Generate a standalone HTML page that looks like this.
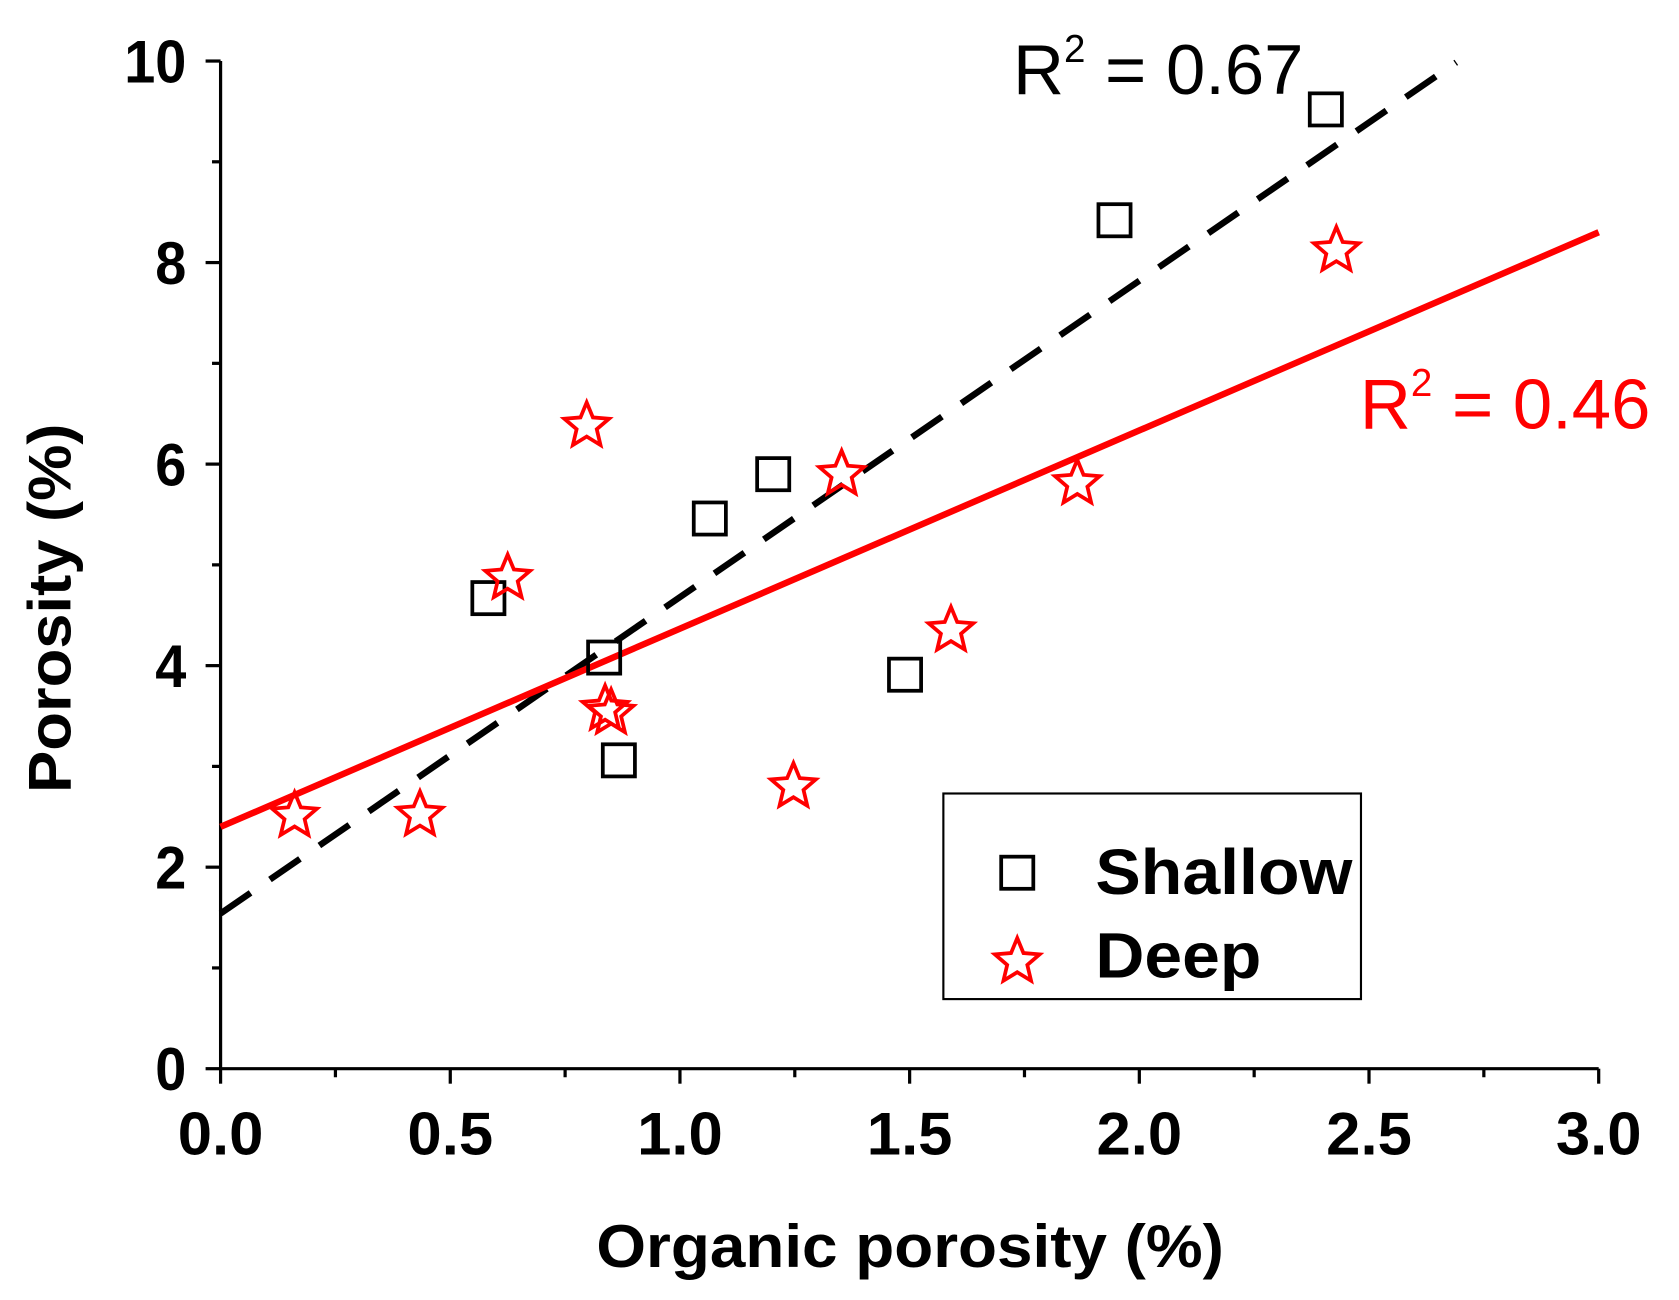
<!DOCTYPE html>
<html><head><meta charset="utf-8"><style>
html,body{margin:0;padding:0;background:#fff;}
svg{display:block;font-family:"Liberation Sans",Arial,sans-serif;}
</style></head><body>
<svg id="chart" width="1679" height="1300" viewBox="0 0 1568 1214" preserveAspectRatio="none" xmlns="http://www.w3.org/2000/svg">
<g id="axes"></g>
<g id="marks"></g>
<text transform="translate(66,568) rotate(-90)" text-anchor="middle" font-size="56" font-weight="bold" textLength="345" lengthAdjust="spacingAndGlyphs">Porosity (%)</text>
<text x="850" y="1183" text-anchor="middle" font-size="56" font-weight="bold" textLength="586" lengthAdjust="spacingAndGlyphs">Organic porosity (%)</text>
<text x="946" y="88" font-size="66">R<tspan dy="-30" font-size="36">2</tspan><tspan dy="30"> = 0.67</tspan></text>
<text x="1270" y="400" font-size="66" fill="#ff0000">R<tspan dy="-30" font-size="36">2</tspan><tspan dy="30"> = 0.46</tspan></text>
<g>
<rect x="881" y="741" width="390" height="192" fill="#fff" stroke="#000" stroke-width="2"/>
<rect x="935" y="800" width="30" height="30" fill="none" stroke="#000" stroke-width="3.5"/>
<text x="1023" y="835" font-size="60" font-weight="bold" textLength="240" lengthAdjust="spacingAndGlyphs">Shallow</text>
<polygon id="legstar" fill="none" stroke="#ff0000" stroke-width="3.5"/>
<text x="1023" y="913" font-size="60" font-weight="bold" textLength="155" lengthAdjust="spacingAndGlyphs">Deep</text>
</g>
</svg>
<script>
const shallowX=[0.583,0.835,0.867,1.065,1.203,1.49,1.946,2.406];
const shallowY=[4.67,4.08,3.06,5.46,5.90,3.91,8.42,9.52];
const deepX=[0.161,0.434,0.625,0.797,0.837,0.85,1.247,1.352,1.59,1.865,2.429];
const deepY=[2.53,2.54,4.89,6.40,3.59,3.55,2.82,5.92,4.37,5.83,8.14];
const fitShallow=[1.54,3.14]; // intercept, slope
const fitDeep=[2.40,1.967];
const xTicks=[0,0.5,1,1.5,2,2.5,3];
const xTickLabels=["0.0","0.5","1.0","1.5","2.0","2.5","3.0"];
const yTicks=[0,2,4,6,8,10];
const yTickLabels=["0","2","4","6","8","10"];
const NS="http://www.w3.org/2000/svg";
const X=v=>206+v*(1493-206)/3;
const Y=v=>998-v*(998-57)/10;
function mk(tag,attrs,parent){const e=document.createElementNS(NS,tag);for(const k in attrs)e.setAttribute(k,attrs[k]);parent.appendChild(e);return e;}
function starPts(cx,cy,R){const r=R*0.45;let p=[];for(let i=0;i<10;i++){const a=-Math.PI/2+i*Math.PI/5;const rr=i%2?r:R;p.push((cx+rr*Math.cos(a)).toFixed(1)+","+(cy+rr*Math.sin(a)).toFixed(1));}return p.join(" ");}
const axes=document.getElementById('axes'),marks=document.getElementById('marks');
let l=mk('line',{x1:206,y1:998,x2:1493,y2:998,stroke:'#000','stroke-width':3},axes);

l=mk('line',{x1:206,y1:998,x2:206,y2:57,stroke:'#000','stroke-width':3},axes);

for(let v=0;v<=3.001;v+=0.25){const major=Math.abs(v*2-Math.round(v*2))<1e-6;mk('line',{x1:X(v),y1:998,x2:X(v),y2:998+(major?14:8),stroke:'#000','stroke-width':3},axes);}
for(let v=0;v<=10.001;v+=1){const major=v%2===0;mk('line',{x1:206,y1:Y(v),x2:206-(major?14:8),y2:Y(v),stroke:'#000','stroke-width':3},axes);}
xTicks.forEach((v,i)=>{const t=mk('text',{x:X(v),y:1078,'text-anchor':'middle','font-size':56,'font-weight':'bold',textLength:80,lengthAdjust:'spacingAndGlyphs'},axes);t.textContent=xTickLabels[i];
});
yTicks.forEach((v,i)=>{const t=mk('text',{x:174,y:Y(v)+20,'text-anchor':'end','font-size':56,'font-weight':'bold',textLength:yTickLabels[i].length*29,lengthAdjust:'spacingAndGlyphs'},axes);t.textContent=yTickLabels[i];
});
let f=mk('line',{x1:X(0),y1:Y(fitShallow[0]),x2:X(2.69),y2:Y(fitShallow[0]+fitShallow[1]*2.69),stroke:'#000','stroke-width':6,'stroke-dasharray':'34,22'},marks);

f=mk('line',{x1:X(0),y1:Y(fitDeep[0]),x2:X(3),y2:Y(fitDeep[0]+fitDeep[1]*3),stroke:'#ff0000','stroke-width':6},marks);

shallowX.forEach((x,i)=>{const r=mk('rect',{x:X(x)-15,y:Y(shallowY[i])-15,width:30,height:30,fill:'none',stroke:'#000','stroke-width':3.5},marks);
});
deepX.forEach((x,i)=>{const p=mk('polygon',{points:starPts(X(x),Y(deepY[i])+2,22),fill:'none',stroke:'#ff0000','stroke-width':3.5},marks);
});
document.getElementById('legstar').setAttribute('points',starPts(950,898,22));
</script>
</body></html>
